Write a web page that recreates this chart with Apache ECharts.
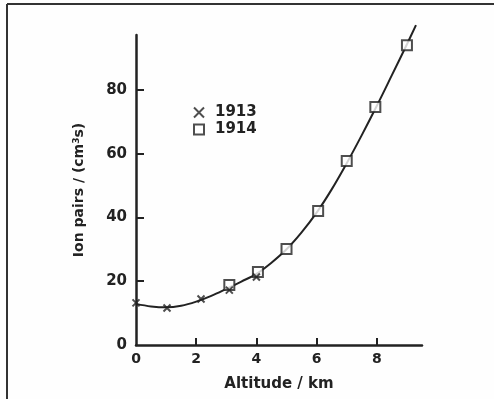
<!DOCTYPE html>
<html>
<head>
<meta charset="utf-8">
<script src="https://cdn.jsdelivr.net/npm/echarts@6/dist/echarts.min.js"></script>
<style>
html,body{margin:0;padding:0;background:#fefefe;}
#c{width:494px;height:399px;}
</style>
</head>
<body>
<div id="c"></div>
<script>
// Data
var x1913 = [0, 1.03, 2.16, 3.1, 4.0];
var y1913 = [13.2, 11.6, 14.4, 17.2, 21.3];
var x1914 = [3.1, 4.05, 5.0, 6.05, 7.0, 7.95, 9.0];
var y1914 = [18.8, 22.9, 30.1, 42.0, 57.7, 74.6, 94.0];
var xFit = [0, 0.5, 1, 1.5, 2, 2.5, 3, 3.5, 4, 4.5, 5, 5.5, 6, 6.5, 7, 7.5, 8, 8.5, 9, 9.3];
var yFit = [12.9, 12.1, 11.8, 12.3, 13.6, 15.4, 17.6, 19.9, 22.3, 25.8, 30.0, 35.3, 41.5, 48.8, 57.0, 65.8, 75.0, 84.6, 94.3, 100.3];
var xTicks = [0, 2, 4, 6, 8];
var yTicks = [0, 20, 40, 60, 80];
var seriesNames = ['1913', '1914'];

function pairs(xs, ys) { return xs.map(function (v, i) { return [v, ys[i]]; }); }

var ink = '#222';
var font = 'DejaVu Sans';
var crossPath = 'path://M0,0L10,10M10,0L0,10';

var chart = echarts.init(document.getElementById('c'), null, {renderer: 'canvas'});
chart.setOption({
  backgroundColor: '#fefefe',
  animation: false,
  graphic: [
    {type: 'line', shape: {x1: 7, y1: 4, x2: 494, y2: 4}, style: {stroke: '#333', lineWidth: 2}},
    {type: 'line', shape: {x1: 7, y1: 4, x2: 7, y2: 399}, style: {stroke: '#333', lineWidth: 2}}
  ],
  grid: {left: 136, top: 35, width: 286, height: 310, containLabel: false},
  legend: {
    orient: 'vertical',
    left: 188, top: 99,
    itemWidth: 10, itemHeight: 10, itemGap: 0,
    textStyle: {fontFamily: font, fontWeight: 'bold', fontSize: 15, color: ink, lineHeight: 17, padding: [0, 0, 0, 6]},
    data: [
      {name: seriesNames[0], icon: crossPath, itemStyle: {color: 'transparent', borderColor: ink, borderWidth: 2}},
      {name: seriesNames[1], icon: 'rect', itemStyle: {color: '#fff', borderColor: ink, borderWidth: 2}}
    ]
  },
  xAxis: {
    type: 'value', min: 0, max: 9.5, interval: 2,
    name: 'Altitude / km', nameLocation: 'middle', nameGap: 32,
    nameTextStyle: {fontFamily: font, fontWeight: 'bold', fontSize: 15, color: ink},
    axisLine: {lineStyle: {color: ink, width: 2.5}},
    axisTick: {inside: true, length: 7, customValues: [2, 4, 6, 8], lineStyle: {color: ink, width: 2}},
    axisLabel: {customValues: xTicks, margin: 7, fontFamily: font, fontWeight: 'bold', fontSize: 14, color: ink},
    splitLine: {show: false}
  },
  yAxis: {
    type: 'value', min: 0, max: 97.2, interval: 20,
    name: 'Ion pairs / (cm{sup|3}s)', nameLocation: 'middle', nameGap: 49, nameRotate: 90,
    nameTextStyle: {fontFamily: font, fontWeight: 'bold', fontSize: 14, color: ink,
      rich: {sup: {fontFamily: font, fontWeight: 'bold', fontSize: 9, color: ink, verticalAlign: 'top', padding: [0, 0, 6, 0]}}},
    axisLine: {show: true, lineStyle: {color: ink, width: 2.5}},
    axisTick: {inside: true, length: 8, customValues: [20, 40, 60, 80], lineStyle: {color: ink, width: 2}},
    axisLabel: {customValues: yTicks, margin: 9, fontFamily: font, fontWeight: 'bold', fontSize: 15, color: ink},
    splitLine: {show: false}
  },
  series: [
    {
      name: 'fit', type: 'line', data: pairs(xFit, yFit), smooth: 0.35,
      showSymbol: false, clip: false, silent: true,
      lineStyle: {color: ink, width: 2}, z: 1
    },
    {
      name: seriesNames[0], type: 'scatter', data: pairs(x1913, y1913),
      symbol: crossPath, symbolSize: 7,
      itemStyle: {color: 'transparent', borderColor: ink, borderWidth: 2}, z: 3
    },
    {
      name: seriesNames[1], type: 'scatter', data: pairs(x1914, y1914),
      symbol: 'rect', symbolSize: 10,
      itemStyle: {color: '#fff', borderColor: ink, borderWidth: 2}, z: 2
    }
  ]
});
</script>
</body>
</html>
